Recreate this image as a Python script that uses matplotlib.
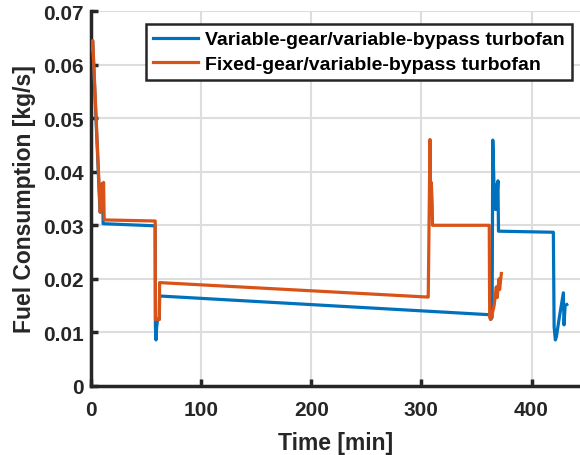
import matplotlib
matplotlib.use("Agg")
import matplotlib.pyplot as plt

# ---- data (time [min], fuel consumption [kg/s]) ----
t_var = [0.0, 1.5, 8.2, 10.3, 10.8, 11.0, 58.2, 58.5, 59.0, 59.6, 60.5, 62.0, 62.3,
         362.5, 363.2, 364.2, 364.8, 366.5, 367.2, 368.0, 369.5, 370.0,
         419.8, 420.5, 421.6, 422.6, 425.0, 428.9, 429.5, 430.5, 432.0]
fc_var = [0.0625, 0.0643, 0.0325, 0.0378, 0.0330, 0.0303, 0.0299, 0.0110, 0.0086, 0.0110, 0.0125, 0.0125, 0.0168,
          0.0133, 0.0125, 0.0128, 0.0459, 0.0330, 0.0375, 0.0330, 0.0383, 0.0289,
          0.0287, 0.0110, 0.0086, 0.0092, 0.0125, 0.0174, 0.0114, 0.0150, 0.0152]

t_fix = [0.0, 1.6, 8.4, 9.5, 10.2, 11.4, 12.0, 58.3, 58.5, 62.0, 62.3,
         305.8, 306.2, 307.8, 308.4, 309.0, 309.8, 310.1,
         361.6, 362.0, 362.8, 363.8, 366.0, 368.0, 368.8, 370.5, 371.0, 372.6]
fc_fix = [0.0630, 0.0645, 0.0324, 0.0375, 0.0330, 0.0380, 0.0310, 0.0308, 0.0124, 0.0124, 0.0193,
          0.0166, 0.0166, 0.0460, 0.0330, 0.0380, 0.0340, 0.0300,
          0.0300, 0.0128, 0.0124, 0.0130, 0.0150, 0.0185, 0.0165, 0.0200, 0.0180, 0.0210]

labels = ["Variable-gear/variable-bypass turbofan", "Fixed-gear/variable-bypass turbofan"]
x_ticks = [0, 100, 200, 300, 400]
y_ticks = [0, 0.01, 0.02, 0.03, 0.04, 0.05, 0.06, 0.07]

plt.rcParams['font.family'] = ['Liberation Sans', 'DejaVu Sans']
plt.rcParams['font.weight'] = 'bold'

dark = '#262626'
fig = plt.figure(figsize=(5.8, 4.56), dpi=100)
ax = fig.add_axes([91 / 580, 69 / 456, 1 - 91 / 580, (387 - 12) / 456])

ax.plot(t_var, fc_var, color='#0072BD', lw=2.3, label=labels[0], zorder=3)
ax.plot(t_fix, fc_fix, color='#D95319', lw=2.3, label=labels[1], zorder=4)

ax.set_xlim(0, 444)
ax.set_ylim(0, 0.07)
ax.set_xticks(x_ticks)
ax.set_yticks(y_ticks)
ax.set_yticklabels(['0', '0.01', '0.02', '0.03', '0.04', '0.05', '0.06', '0.07'])
ax.grid(True, color='#dddddd', lw=1.5)
ax.set_axisbelow(True)

for s in ['top', 'right']:
    ax.spines[s].set_visible(False)
for s in ['left', 'bottom']:
    ax.spines[s].set_linewidth(2.5)
    ax.spines[s].set_color(dark)

ax.tick_params(axis='both', direction='in', length=5, width=2.5, colors=dark,
               labelsize=15, labelcolor=dark)
ax.tick_params(axis='x', pad=10)
ax.tick_params(axis='y', pad=5)
for lab in ax.get_xticklabels() + ax.get_yticklabels():
    lab.set_fontweight('bold')

ax.set_xlabel('Time [min]', fontsize=16.5, fontweight='bold', color=dark, labelpad=9)
ax.set_ylabel('Fuel Consumption [kg/s]', fontsize=16.5, fontweight='bold', color=dark, labelpad=5)

leg = ax.legend(loc='upper right', bbox_to_anchor=(572 / 580, 1 - 25 / 456),
                bbox_transform=fig.transFigure, borderaxespad=0,
                fancybox=False, framealpha=1, edgecolor=dark,
                prop={'size': 14, 'weight': 'bold'}, handlelength=2.3,
                labelspacing=0.35, handletextpad=0.4, borderpad=0.35)
leg.get_frame().set_linewidth(1.8)
for txt in leg.get_texts():
    txt.set_color('black')

fig.savefig('out.png', dpi=100)
